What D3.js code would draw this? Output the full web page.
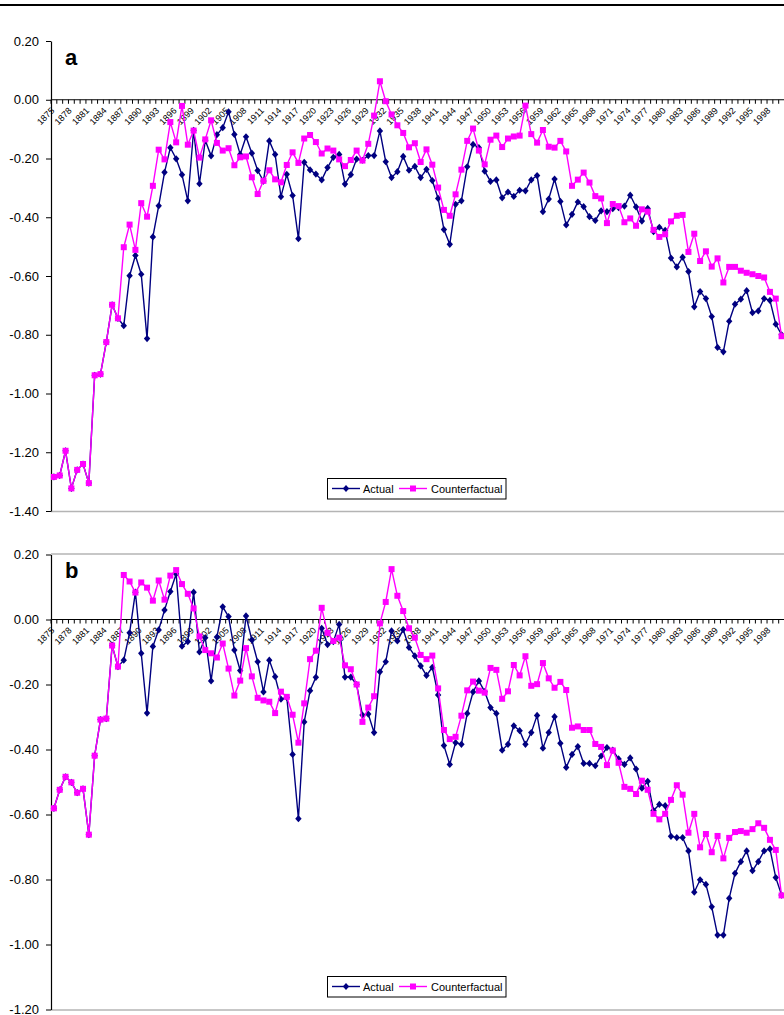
<!DOCTYPE html>
<html>
<head>
<meta charset="utf-8">
<script src="https://cdn.jsdelivr.net/npm/d3@7"></script>
<style>
  body { margin: 0; background: #fff; }
  svg { display: block; font-family: "Liberation Sans", Arial, sans-serif; }
</style>
</head>
<body>
<svg id="chart" width="784" height="1015"></svg>
<script>
// categories
const years = d3.range(1875, 2001);
const labelYears = years.filter(y => (y - 1875) % 3 === 0);
const seriesNames = ["Actual", "Counterfactual"];

// panel a
const actualA = [
  -1.284,-1.279,-1.195,-1.323,-1.260,-1.240,-1.305,-0.938,-0.934,-0.825,
  -0.698,-0.744,-0.769,-0.599,-0.530,-0.594,-0.813,-0.467,-0.361,-0.247,
  -0.163,-0.201,-0.255,-0.344,-0.104,-0.286,-0.138,-0.191,-0.119,-0.095,
  -0.041,-0.118,-0.186,-0.126,-0.182,-0.241,-0.277,-0.140,-0.186,-0.330,
  -0.254,-0.326,-0.473,-0.213,-0.239,-0.253,-0.273,-0.231,-0.196,-0.186,
  -0.287,-0.255,-0.202,-0.206,-0.190,-0.190,-0.106,-0.211,-0.265,-0.245,
  -0.193,-0.240,-0.227,-0.265,-0.237,-0.275,-0.336,-0.442,-0.492,-0.356,
  -0.344,-0.228,-0.152,-0.163,-0.243,-0.278,-0.273,-0.334,-0.314,-0.329,
  -0.308,-0.310,-0.273,-0.258,-0.381,-0.338,-0.270,-0.346,-0.426,-0.390,
  -0.348,-0.364,-0.398,-0.411,-0.378,-0.381,-0.371,-0.367,-0.362,-0.325,
  -0.365,-0.413,-0.370,-0.449,-0.434,-0.445,-0.539,-0.569,-0.536,-0.585,
  -0.705,-0.653,-0.677,-0.738,-0.843,-0.858,-0.754,-0.696,-0.679,-0.650,
  -0.725,-0.719,-0.677,-0.683,-0.764,-0.800
];
const counterA = [
  -1.284,-1.279,-1.195,-1.323,-1.260,-1.240,-1.305,-0.938,-0.934,-0.825,
  -0.698,-0.744,-0.502,-0.425,-0.511,-0.352,-0.398,-0.293,-0.170,-0.203,
  -0.076,-0.145,-0.021,-0.153,-0.105,-0.197,-0.135,-0.070,-0.147,-0.173,
  -0.165,-0.223,-0.196,-0.193,-0.264,-0.321,-0.276,-0.240,-0.271,-0.281,
  -0.222,-0.179,-0.215,-0.132,-0.120,-0.144,-0.183,-0.166,-0.173,-0.203,
  -0.226,-0.205,-0.173,-0.207,-0.150,-0.054,0.063,-0.005,-0.050,-0.087,
  -0.113,-0.162,-0.148,-0.212,-0.169,-0.221,-0.299,-0.375,-0.395,-0.322,
  -0.238,-0.140,-0.098,-0.173,-0.220,-0.136,-0.122,-0.161,-0.132,-0.125,
  -0.122,-0.020,-0.117,-0.146,-0.103,-0.160,-0.163,-0.140,-0.176,-0.293,
  -0.272,-0.248,-0.282,-0.328,-0.336,-0.420,-0.355,-0.362,-0.417,-0.404,
  -0.429,-0.373,-0.381,-0.443,-0.467,-0.458,-0.414,-0.395,-0.392,-0.518,
  -0.456,-0.549,-0.516,-0.568,-0.540,-0.622,-0.569,-0.569,-0.582,-0.589,
  -0.594,-0.600,-0.605,-0.654,-0.677,-0.805
];

// panel b
const actualB = [
  -0.581,-0.524,-0.484,-0.501,-0.533,-0.521,-0.662,-0.419,-0.308,-0.305,
  -0.080,-0.145,-0.125,-0.041,0.084,-0.104,-0.288,-0.083,-0.032,0.029,
  0.086,0.140,-0.082,-0.068,0.084,-0.100,-0.056,-0.189,-0.054,0.039,
  0.009,-0.094,-0.157,0.011,-0.063,-0.130,-0.223,-0.125,-0.176,-0.245,
  -0.240,-0.415,-0.613,-0.315,-0.219,-0.178,-0.027,-0.077,-0.068,-0.015,
  -0.177,-0.177,-0.200,-0.294,-0.291,-0.348,-0.161,-0.130,-0.035,-0.066,
  -0.031,-0.086,-0.112,-0.143,-0.172,-0.147,-0.232,-0.388,-0.446,-0.379,
  -0.384,-0.289,-0.223,-0.189,-0.222,-0.271,-0.289,-0.402,-0.384,-0.327,
  -0.342,-0.384,-0.348,-0.295,-0.396,-0.348,-0.299,-0.381,-0.455,-0.415,
  -0.391,-0.443,-0.443,-0.450,-0.420,-0.394,-0.402,-0.429,-0.446,-0.426,
  -0.460,-0.519,-0.498,-0.588,-0.569,-0.573,-0.667,-0.671,-0.671,-0.712,
  -0.839,-0.801,-0.815,-0.884,-0.971,-0.971,-0.858,-0.781,-0.745,-0.712,
  -0.773,-0.745,-0.712,-0.706,-0.794,-0.848
];
const counterB = [
  -0.581,-0.524,-0.484,-0.501,-0.533,-0.521,-0.662,-0.419,-0.308,-0.305,
  -0.080,-0.145,0.137,0.117,0.083,0.114,0.098,0.058,0.120,0.061,
  0.135,0.152,0.109,0.079,0.034,-0.052,-0.094,-0.104,-0.117,-0.074,
  -0.151,-0.234,-0.188,-0.088,-0.175,-0.241,-0.249,-0.253,-0.288,-0.222,
  -0.238,-0.293,-0.379,-0.258,-0.122,-0.096,0.036,-0.041,-0.066,-0.056,
  -0.141,-0.153,-0.200,-0.315,-0.271,-0.236,-0.012,0.054,0.155,0.073,
  0.026,-0.027,-0.056,-0.109,-0.122,-0.111,-0.212,-0.340,-0.368,-0.361,
  -0.296,-0.218,-0.191,-0.219,-0.225,-0.149,-0.155,-0.244,-0.221,-0.140,
  -0.172,-0.113,-0.204,-0.199,-0.134,-0.181,-0.210,-0.192,-0.217,-0.333,
  -0.329,-0.340,-0.340,-0.383,-0.392,-0.448,-0.403,-0.441,-0.515,-0.521,
  -0.537,-0.496,-0.524,-0.598,-0.615,-0.598,-0.555,-0.510,-0.539,-0.656,
  -0.598,-0.701,-0.660,-0.716,-0.666,-0.735,-0.672,-0.654,-0.651,-0.656,
  -0.645,-0.627,-0.641,-0.678,-0.709,-0.849
];

const W = 784;
const NAVY = "#000080", PINK = "#ff00ff";
const svg = d3.select("#chart");

// rule at the very top
svg.append("rect").attr("x", 0).attr("y", 4).attr("width", W).attr("height", 2).attr("fill", "#000");

const x = d3.scaleBand().domain(years).range([51, 784.5]);
const cx = yr => x(yr) + x.bandwidth() / 2;

function diamond(sel, c) {
  sel.append("path").attr("d", "M0,-3.6L3.2,0L0,3.6L-3.2,0Z").attr("fill", c);
}
function square(sel, c) {
  sel.append("rect").attr("x", -3).attr("y", -3).attr("width", 6).attr("height", 6).attr("fill", c);
}

function panel(p) {
  const y = d3.scaleLinear().domain([p.min, 0.2]).range([p.bottom, p.top]);
  const g = svg.append("g");

  // plot area border lines (grey)
  g.append("line").attr("x1", 51).attr("x2", W).attr("y1", p.bottom + 0.5).attr("y2", p.bottom + 0.5)
    .attr("stroke", "#b4b4b4").attr("stroke-width", 1.3);
  if (p.topBorder) {
    g.append("line").attr("x1", 51).attr("x2", W).attr("y1", p.top - 0.5).attr("y2", p.top - 0.5)
      .attr("stroke", "#b4b4b4").attr("stroke-width", 1.3);
  }

  // y axis
  const tickVals = d3.range(Math.round(p.min * 10), 3, 2).map(v => v / 10);
  const ya = g.append("g")
    .attr("transform", "translate(51,0)")
    .call(d3.axisLeft(y).tickValues(tickVals).tickSize(5).tickSizeOuter(0).tickPadding(7)
      .tickFormat(v => v.toFixed(2)));
  ya.select(".domain").attr("stroke", "#000").attr("stroke-width", 1.2);
  ya.selectAll(".tick line").attr("stroke", "#000");
  ya.selectAll("text").attr("font-size", 13).attr("font-family", "Liberation Sans, Arial, sans-serif").attr("fill", "#000");

  // x axis at zero
  const y0 = y(0);
  g.append("line").attr("x1", 51).attr("x2", W).attr("y1", y0).attr("y2", y0)
    .attr("stroke", "#000").attr("stroke-width", 1.2);
  g.selectAll(".xt")
    .data(years.concat([2001]))
    .enter()
    .append("line")
    .attr("class", "xt")
    .attr("x1", d => d === 2001 ? x.range()[1] : x(d))
    .attr("x2", d => d === 2001 ? x.range()[1] : x(d))
    .attr("y1", y0)
    .attr("y2", y0 + 4)
    .attr("stroke", "#000");
  g.selectAll(".xl")
    .data(labelYears)
    .enter()
    .append("text")
    .attr("class", "xl")
    .attr("transform", d => `translate(${cx(d) - 3.5},${y0 + 7}) rotate(-45)`)
    .attr("text-anchor", "end")
    .attr("dy", "0.71em")
    .attr("font-size", 9)
    .attr("fill", "#000")
    .text(d => d);

  // series lines
  const line = d3.line().x((d, i) => cx(years[i])).y(d => y(d));
  [[p.actual, NAVY, diamond], [p.counter, PINK, square]].forEach(([vals, c, mk]) => {
    g.append("path").datum(vals)
      .attr("d", line)
      .attr("fill", "none")
      .attr("stroke", c)
      .attr("stroke-width", 1.4);
    g.selectAll(null)
      .data(vals)
      .enter()
      .append("g")
      .attr("transform", (d, i) => `translate(${cx(years[i])},${y(d)})`)
      .each(function () { mk(d3.select(this), c); });
  });

  // panel letter
  g.append("text").attr("x", 65).attr("y", p.top + 23.5)
    .attr("font-size", 22).attr("font-weight", "bold").attr("fill", "#000").text(p.letter);

  // legend
  const lg = g.append("g").attr("transform", `translate(327.5,${p.legendY})`);
  lg.append("rect").attr("width", 178.5).attr("height", 20.5).attr("fill", "#fff").attr("stroke", "#000");
  const items = [[NAVY, diamond, 4.5, 35.5], [PINK, square, 71.5, 103.5]];
  items.forEach(([c, mk, lx, tx], k) => {
    lg.append("line").attr("x1", lx).attr("x2", lx + 28).attr("y1", 10).attr("y2", 10)
      .attr("stroke", c).attr("stroke-width", 1.4);
    mk(lg.append("g").attr("transform", `translate(${lx + 14},10)`), c);
    lg.append("text").attr("x", tx).attr("y", 14).attr("font-size", 11).attr("fill", "#000").text(seriesNames[k]);
  });
}

panel({ top: 41, bottom: 511, min: -1.4, letter: "a", actual: actualA, counter: counterA, legendY: 478.5 });
panel({ top: 554.5, bottom: 1009.5, min: -1.2, letter: "b", actual: actualB, counter: counterB, legendY: 976.5, topBorder: true });
</script>
</body>
</html>
